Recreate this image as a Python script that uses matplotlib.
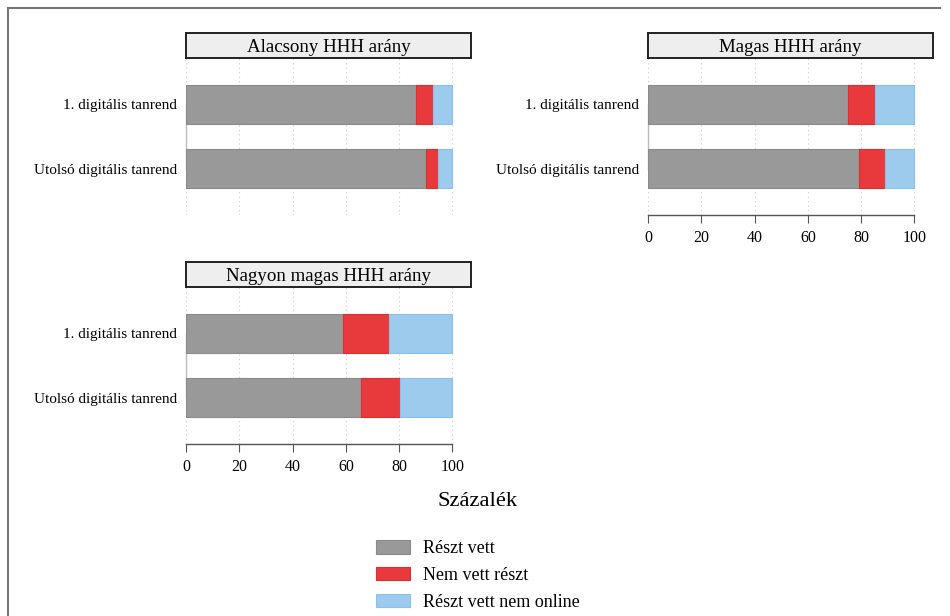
import matplotlib
matplotlib.use('Agg')
import matplotlib.pyplot as plt
from matplotlib.patches import Patch
from matplotlib.lines import Line2D

plt.rcParams['font.family'] = ['Liberation Serif', 'DejaVu Serif']

# data (percent)
panels = ['Alacsony HHH arány', 'Magas HHH arány', 'Nagyon magas HHH arány']
categories = ['1. digitális tanrend', 'Utolsó digitális tanrend']
series = ['Részt vett', 'Nem vett részt', 'Részt vett nem online']
reszt_vett = [[86.5, 90.0], [75.1, 79.3], [58.9, 65.7]]
nem_vett = [[6.2, 4.5], [10.0, 9.5], [17.2, 14.8]]
nem_online = [[7.3, 5.5], [14.9, 11.2], [23.9, 19.5]]
xticks = [0, 20, 40, 60, 80, 100]

colors = ['#999999', '#e8393c', '#9ccbee']
edges = ['#8a8a8a', '#d83034', '#8cc0e8']

W, H = 950, 616


def px(l, t, r, b):
    return [l / W, 1 - b / H, (r - l) / W, (b - t) / H]


fig = plt.figure(figsize=(W / 100, H / 100), dpi=100)

# panel boxes (pixels): plot area, strip, show x axis
layout = [
    ((186, 58, 471, 215), (186, 33, 471, 57.5), False),
    ((648, 58, 933, 215), (648, 33, 933, 57.5), True),
    ((186, 287, 471, 444), (186, 262, 471, 287), True),
]

for i, (box, sbox, show_x) in enumerate(layout):
    ax = fig.add_axes(px(*box))
    ypos = list(range(len(categories)))
    left = [0, 0]
    for vals, c, e in zip([reszt_vett[i], nem_vett[i], nem_online[i]], colors, edges):
        ax.barh(ypos, vals, left=left, height=0.6, color=c, edgecolor=e,
                linewidth=0.8, zorder=3)
        left = [a + b for a, b in zip(left, vals)]
    ax.set_xlim(0, 107)
    ax.set_ylim(1.72, -0.72)
    for x in xticks:
        ax.axvline(x, color='#cccccc', linestyle=(0, (1, 3)), linewidth=0.8, zorder=1)
    ax.set_yticks(ypos)
    ax.set_yticklabels(categories, fontsize=11)
    ax.tick_params(axis='y', length=0, pad=6.5)
    for s in ['top', 'right']:
        ax.spines[s].set_visible(False)
    ax.spines['left'].set_bounds(0, 1)
    ax.spines['left'].set_color('#bbbbbb')
    ax.spines['left'].set_linewidth(1.0)
    if show_x:
        ax.set_xticks(xticks)
        ax.set_xticklabels([str(x) for x in xticks], fontsize=11.5)
        ax.spines['bottom'].set_bounds(0, 100)
        ax.spines['bottom'].set_color('#555555')
        ax.spines['bottom'].set_linewidth(1.0)
        ax.tick_params(axis='x', length=6, color='#555555', pad=5)
    else:
        ax.spines['bottom'].set_visible(False)
        ax.set_xticks([])

    sax = fig.add_axes(px(*sbox))
    sax.set_facecolor('#eeeeee')
    sax.set_xticks([])
    sax.set_yticks([])
    for s in sax.spines.values():
        s.set_color('#222222')
        s.set_linewidth(1.4)
    sax.text(0.5, 0.42, panels[i], ha='center', va='center', fontsize=13.6,
             transform=sax.transAxes)

fig.text(478 / W, 1 - 502 / H, 'Százalék', ha='center', va='center', fontsize=16.2)

handles = [Patch(facecolor=c, edgecolor=e, linewidth=0.8) for c, e in zip(colors, edges)]
fig.legend(handles, series, loc='upper left', bbox_to_anchor=(360 / W, 1 - 524 / H),
           frameon=False, fontsize=13, handlelength=1.85, handleheight=0.75,
           labelspacing=0.55, handletextpad=0.75)

# outer frame (left and top edges only are visible)
fig.add_artist(Line2D([7.5 / W, 7.5 / W], [0, 1 - 7.5 / H], transform=fig.transFigure,
                      color='#777777', linewidth=1.5))
fig.add_artist(Line2D([7.5 / W, 940 / W], [1 - 7.5 / H, 1 - 7.5 / H],
                      transform=fig.transFigure, color='#777777', linewidth=1.5))

fig.savefig('out.png', dpi=100, facecolor='white')
